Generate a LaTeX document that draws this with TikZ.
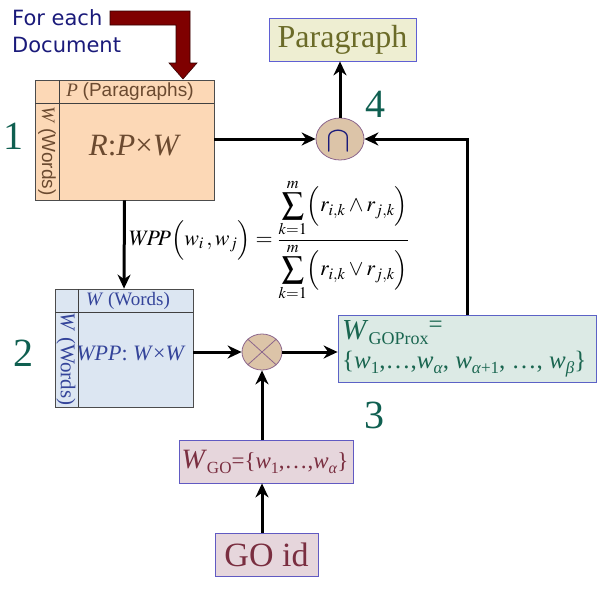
\documentclass[tikz,border=0pt]{standalone}
\usepackage{mathptmx}
\usepackage[no-math]{fontspec}
\setmainfont{Liberation Serif}
\setsansfont{Liberation Sans}
\newfontfamily\dejasans{DejaVu Sans}
\usetikzlibrary{arrows.meta,shapes.geometric}
\newcommand\lo[2][15]{\raisebox{-0.45ex}{\fontsize{#1}{#1}\selectfont #2}}
\definecolor{peach}{HTML}{FCD8B6}
\definecolor{lblue}{HTML}{DCE6F2}
\definecolor{lgreen}{HTML}{DCEAE5}
\definecolor{lpink}{HTML}{E6D6DC}
\definecolor{lyellow}{HTML}{EEEED2}
\definecolor{tan}{HTML}{DCC4A8}
\definecolor{brownt}{HTML}{6B4A30}
\definecolor{bluet}{HTML}{34449A}
\definecolor{greent}{HTML}{1A6650}
\definecolor{pinkt}{HTML}{7A2E40}
\definecolor{olivet}{HTML}{6B6B28}
\definecolor{numt}{HTML}{0F5F50}
\definecolor{navyt}{HTML}{1A1A7A}
\definecolor{darkred}{HTML}{7F0000}
\begin{document}
\begin{tikzpicture}[x=1pt,y=-1pt,
  box/.style={draw=#1,line width=0.8pt,inner sep=0pt,rectangle},
  opnode/.style={ellipse,draw=black!50!violet!60,fill=tan,line width=0.8pt,inner sep=0pt},
  conn/.style={line width=3pt,-{Stealth[length=14pt,width=13pt]}},
  num/.style={text=numt,font=\fontsize{40}{40}\selectfont},
  grid/.style={line width=0.8pt,draw=black!75}]
\useasboundingbox (0,0) rectangle (600,589);

% For each Document
\node[text=navyt,font=\dejasans\fontsize{21}{27}\selectfont,align=left,anchor=north west,inner sep=0pt] (fed) at (12,9) {For each\\Document};
\fill[darkred,draw=black!60!darkred,line width=0.6pt] (110,11) -- (190,11) -- (190,63) -- (197,63) -- (183,79) -- (169,63) -- (176,63) -- (176,25) -- (110,25) -- cycle;

% Box 1
\node[box=black!70,fill=peach,minimum width=179pt,minimum height=120pt] (b1) at (124.5,140) {};
\draw[grid] (35,103) -- (214,103);
\draw[grid] (59,80) -- (59,200);
\node[text=brownt,font=\fontsize{19}{19}\selectfont] (b1h) at (130,92) {\textit{P} \textsf{(Paragraphs)}};
\node[text=brownt,font=\fontsize{19}{19}\selectfont,rotate=-90] (b1l) at (47,151) {\textit{W} \textsf{(Words)}};
\node[text=brownt,font=\fontsize{31}{31}\selectfont] (b1m) at (135,146) {\textit{R}:\textit{P}×\textit{W}};

% Box 2
\node[box=black!70,fill=lblue,minimum width=138pt,minimum height=118pt] (b2) at (124,348) {};
\draw[grid] (55,312) -- (193,312);
\draw[grid] (78,289) -- (78,407);
\node[text=bluet,font=\fontsize{19}{19}\selectfont] (b2h) at (128,301) {\textit{W} (Words)};
\node[text=bluet,font=\fontsize{21}{21}\selectfont,rotate=-90] (b2l) at (66,359) {\textit{W} (Words)};
\node[text=bluet,font=\fontsize{22}{22}\selectfont] (b2m) at (131,353) {\textit{WPP}: \textit{W}×\textit{W}};

% Box 3
\node[box=black!30!lgreen!60!blue,fill=lgreen,minimum width=258pt,minimum height=67pt] (b3) at (467,348.5) {};
\node[text=greent,font=\fontsize{25}{29}\selectfont,align=left,anchor=west,inner sep=0pt] (b3t) at (342,349) {{\fontsize{29}{29}\selectfont\textit{W}}\lo[18]{GOProx}\raisebox{0.6ex}{=}\\\{\textit{w}\lo[17]{1},…,\textit{w}\lo[17]{\textit{α}}, \textit{w}\lo[17]{\textit{α}+1}, …, \textit{w}\lo[17]{\textit{β}}\}};

% WGO box
\node[box=black!30!lpink!60!blue,fill=lpink,minimum width=174pt,minimum height=43pt] (wgo) at (266,461.5) {};
\node[text=pinkt,font=\fontsize{23}{23}\selectfont,inner sep=0pt] (wgot) at (265,462) {{\fontsize{28}{28}\selectfont\textit{W}}\lo[17]{GO}={\{}\textit{w}\lo[16]{1},…,\textit{w}\lo[16]{\textit{α}}\}};

% GO id box
\node[box=black!30!lpink!60!blue,fill=lpink,minimum width=103pt,minimum height=43pt,text=pinkt,font=\fontsize{34}{34}\selectfont] (goid) at (266.5,554.5) {GO id};

% Paragraph box
\node[box=black!20!lyellow!50!blue,fill=lyellow,minimum width=147pt,minimum height=43pt,text=olivet,font=\fontsize{32}{32}\selectfont] (para) at (342.5,39.5) {Paragraph};

% operators
\node[opnode,minimum width=48pt,minimum height=42pt] (cap) at (340,139) {};
\node[text=navyt,font=\fontsize{36}{36}\selectfont,inner sep=0pt] (capt) at (338,142) {$\cap$};
\node[opnode,minimum width=40pt,minimum height=36pt] (ot) at (262,352) {};
\draw[draw=black!50!violet!60,line width=0.8pt] (ot.north east) -- (ot.south west) (ot.north west) -- (ot.south east);

% formula
\node[anchor=west,font=\fontsize{22}{22}\selectfont,inner sep=0pt] (frm) at (129,240) {$\displaystyle W\!P\!P\Bigl(w_i\,,w_j\Bigr)=\frac{\displaystyle\sum_{k=1}^{m}\Bigl(r_{i,k}\wedge r_{j,k}\Bigr)}{\displaystyle\sum_{k=1}^{m}\Bigl(r_{i,k}\vee r_{j,k}\Bigr)}$};

% numbers
\node[num] (n1) at (13,136) {1};
\node[num] (n2) at (23,353) {2};
\node[num] (n3) at (374,415) {3};
\node[num] (n4) at (375,104) {4};

% connectors
\draw[conn] (b1.east |- cap.west) -- (cap.west);
\draw[conn] (cap.north) -- (cap.north |- para.south);
\draw[conn] (b3.north) |- (cap.east);
\draw[conn] (b1.south) -- (b2.north);
\draw[conn] (b2.east |- ot.west) -- (ot.west);
\draw[conn] (ot.east) -- (ot.east -| b3.west);
\draw[conn] (ot.south |- wgo.north) -- (ot.south);
\draw[conn] (goid.north -| ot.south) -- (ot.south |- wgo.south);
\end{tikzpicture}
\end{document}
